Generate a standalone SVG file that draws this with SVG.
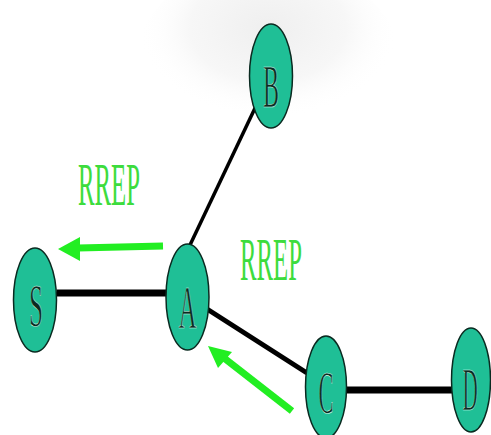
<svg xmlns="http://www.w3.org/2000/svg" width="491" height="435" viewBox="0 0 491 435">
<defs>
<radialGradient id="bg" cx="0.5" cy="0.35" r="0.5">
<stop offset="0" stop-color="#efefef"/>
<stop offset="0.6" stop-color="#f7f7f7"/>
<stop offset="1" stop-color="#ffffff" stop-opacity="0"/>
</radialGradient>
<style>
.node ellipse{fill:#1fbf96;stroke:#0a2a20;stroke-width:1.5}
.node text{font-family:"Liberation Serif",serif;font-size:62px;fill:#0b2a20;stroke:#d8fff0;stroke-width:0.6;text-anchor:middle}
.edge{stroke:#000;fill:none;stroke-linecap:butt}
.arr{stroke:#22ee22;stroke-width:7;fill:none}
.head{fill:#22ee22}
.lbl{font-family:"Liberation Serif",serif;font-size:62px;fill:#3ddc3d}
</style>
</defs>
<rect width="491" height="435" fill="#ffffff"/>
<ellipse cx="268" cy="55" rx="130" ry="90" fill="url(#bg)"/>
<g id="connectors">
<line class="edge" x1="57" y1="293" x2="167" y2="293" stroke-width="7"/>
<line class="edge" x1="190" y1="245" x2="256" y2="106" stroke-width="3.5"/>
<line class="edge" x1="207" y1="309" x2="307" y2="373" stroke-width="5"/>
<line class="edge" x1="346" y1="390" x2="453" y2="390" stroke-width="7"/>
</g>
<g id="arrows">
<path d="M163,246 L78,248" class="arr"/>
<path d="M58,249 L80,237 L80,261 Z" class="head"/>
<path d="M292,411 L224,358" class="arr"/>
<path d="M208,346 L232,352 L218,368 Z" class="head"/>
</g>
<text class="lbl" x="78" y="205" textLength="62" lengthAdjust="spacingAndGlyphs">RREP</text>
<text class="lbl" x="240" y="280" textLength="62" lengthAdjust="spacingAndGlyphs">RREP</text>
<g id="B" class="node"><ellipse cx="271" cy="76" rx="21.5" ry="52"/><text x="271" y="107" textLength="16" lengthAdjust="spacingAndGlyphs">B</text></g>
<g id="S" class="node"><ellipse cx="35" cy="300" rx="21.5" ry="52"/><text x="36" y="326" textLength="14" lengthAdjust="spacingAndGlyphs">S</text></g>
<g id="A" class="node"><ellipse cx="187.5" cy="297" rx="21.5" ry="53"/><text x="187.5" y="328" textLength="18" lengthAdjust="spacingAndGlyphs">A</text></g>
<g id="C" class="node"><ellipse cx="326" cy="387" rx="20.5" ry="51"/><text x="326" y="413" textLength="15" lengthAdjust="spacingAndGlyphs">C</text></g>
<g id="D" class="node"><ellipse cx="471" cy="380" rx="19.5" ry="52"/><text transform="translate(470,410) scale(0.34,1)" x="0" y="0">D</text></g>
</svg>
